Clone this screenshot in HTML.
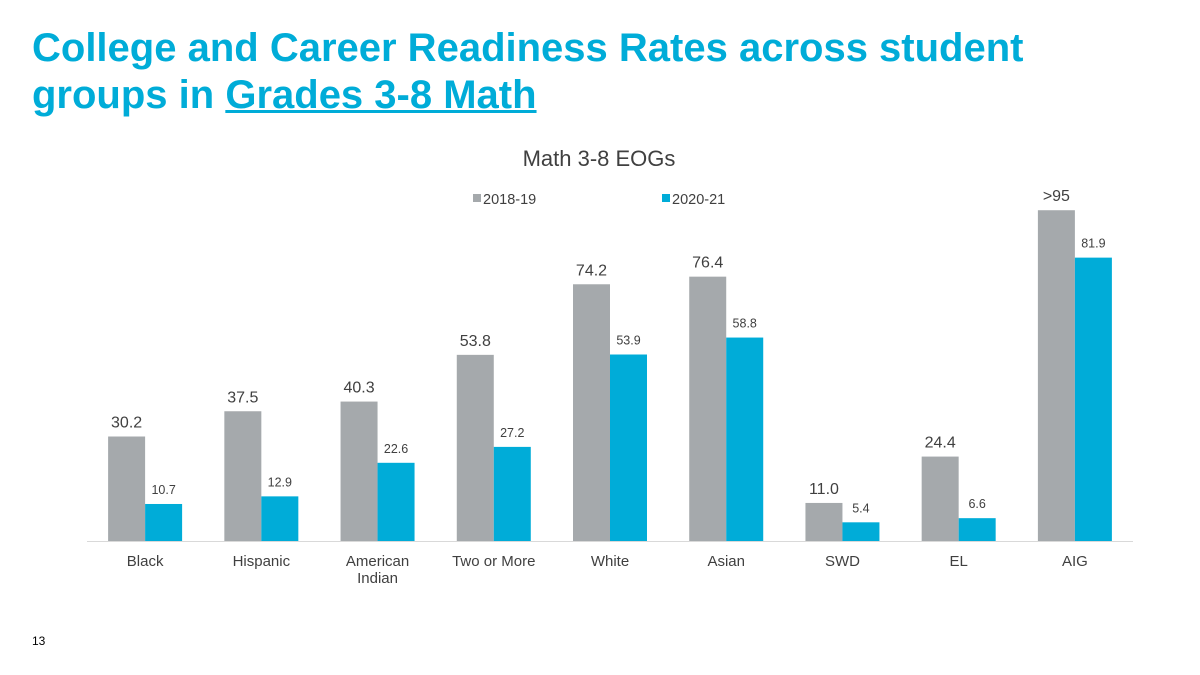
<!DOCTYPE html>
<html><head><meta charset="utf-8"><style>
body{margin:0;width:1200px;height:675px;background:#fff;overflow:hidden;font-family:"Liberation Sans",Arial,sans-serif;position:relative}
#title{position:absolute;left:32px;top:25px;font-size:40px;font-weight:bold;color:#00ACD8;line-height:47px;margin:0}
#title u{text-decoration-thickness:3px}
#pg{position:absolute;left:32px;top:634px;font-size:12px;color:#000}
svg{position:absolute;left:0;top:0}
</style></head><body>
<h1 id="title">College and Career Readiness Rates across student<br>groups in <u>Grades 3-8 Math</u></h1>
<div id="pg">13</div>
<svg id="chart" width="1200" height="675">
<text x="599" y="166" font-size="22" fill="#404040" text-anchor="middle">Math 3-8 EOGs</text>
<g><rect x="473" y="194" width="8" height="8" fill="#A5A9AC"/><text x="483" y="204" font-size="14.5" fill="#404040">2018-19</text></g>
<g><rect x="662" y="194" width="8" height="8" fill="#00ACD8"/><text x="672" y="204" font-size="14.5" fill="#404040">2020-21</text></g>
<line x1="87" y1="541.5" x2="1133" y2="541.5" stroke="#D9D9D9"/>
</svg>
<script>
const categories=[["Black"],["Hispanic"],["American","Indian"],["Two or More"],["White"],["Asian"],["SWD"],["EL"],["AIG"]];
const values2019=[30.2,37.5,40.3,53.8,74.2,76.4,11.0,24.4,95.6];
const labels2019=["30.2","37.5","40.3","53.8","74.2","76.4","11.0","24.4",">95"];
const values2021=[10.7,12.9,22.6,27.2,53.9,58.8,5.4,6.6,81.9];
const labels2021=["10.7","12.9","22.6","27.2","53.9","58.8","5.4","6.6","81.9"];
const svg=document.getElementById('chart');const NS='http://www.w3.org/2000/svg';
const x0=87,x1=1133,base=541,scale=3.46,bw=37;
const gw=(x1-x0)/categories.length;
const y=v=>base-v*scale;
function mk(t,a){const e=document.createElementNS(NS,t);for(const k in a)e.setAttribute(k,a[k]);svg.appendChild(e);return e;}
categories.forEach((c,i)=>{
 const cx=x0+gw*(i+0.5);
 const r1=mk('rect',{x:cx-bw,y:y(values2019[i]),width:bw,height:values2019[i]*scale,fill:'#A5A9AC'});
 
 
 const r2=mk('rect',{x:cx,y:y(values2021[i]),width:bw,height:values2021[i]*scale,fill:'#00ACD8'});
 
 
 const l1=mk('text',{x:cx-bw/2,y:y(values2019[i])-9,'font-size':16,fill:'#404040','text-anchor':'middle'});l1.textContent=labels2019[i];
 
 
 const l2=mk('text',{x:cx+bw/2,y:y(values2021[i])-10,'font-size':12.5,fill:'#404040','text-anchor':'middle'});l2.textContent=labels2021[i];
 
 
 c.forEach((line,j)=>{const t=mk('text',{x:cx,y:566+j*17,'font-size':15,fill:'#404040','text-anchor':'middle'});t.textContent=line;
 
 });
});
</script>
</body></html>
